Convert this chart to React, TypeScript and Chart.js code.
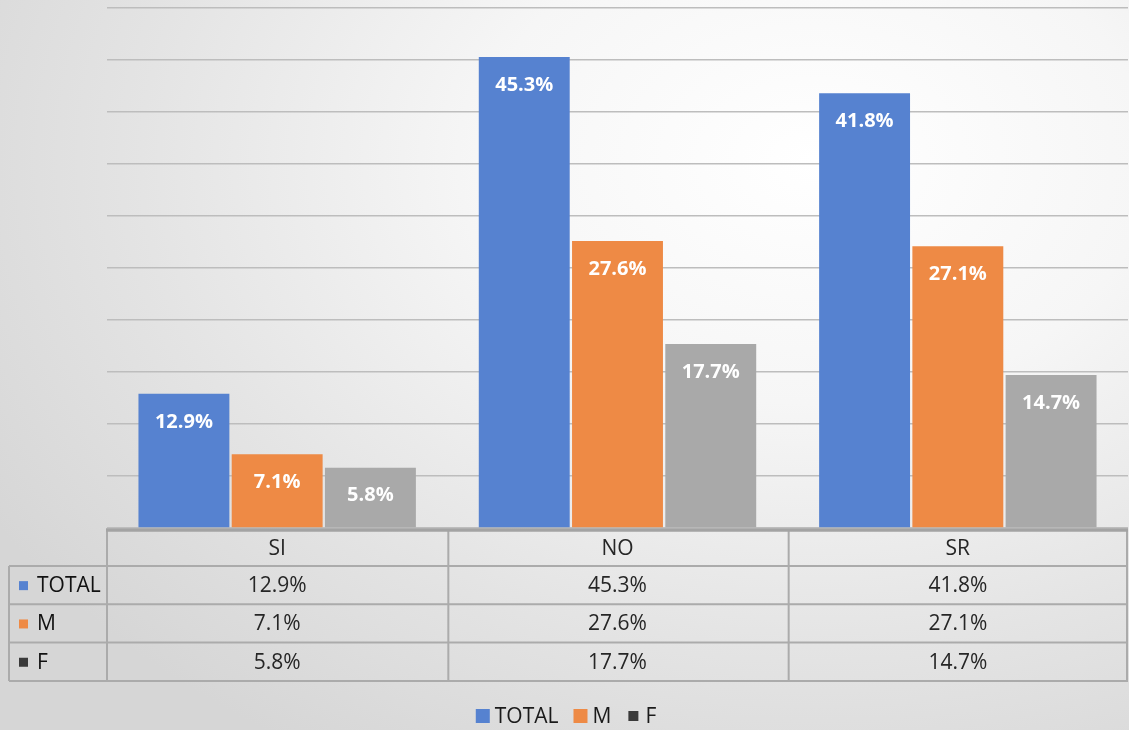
import React, { useEffect, useRef } from 'react';
import { Chart, registerables } from 'chart.js';

Chart.register(...registerables);

// ---- data ----
const categories = ['SI', 'NO', 'SR'];
const seriesNames = ['TOTAL', 'M', 'F'];
const totalValues = [12.9, 45.3, 41.8];
const mValues = [7.1, 27.6, 27.1];
const fValues = [5.8, 17.7, 14.7];
const yMin = 0;
const yMax = 50;
const yStep = 5;

// ---- styles ----
const BAR_COLORS = ['#5682D0', '#EE8A45', '#A9A9A9'];
const MARKER_COLORS = ['#5682D0', '#EE8A45', '#3A3A3A'];
const LEGEND_MARKER_SIZES = [14, 14, 10];
const FONT = '"Open Sans", "Liberation Sans", sans-serif';
const LINE_COLOR = '#ababab';

const fmt = (v: number) => v.toFixed(1) + '%';

const dataLabelPlugin = {
  id: 'dataLabels',
  afterDatasetsDraw(chart: any) {
    const { ctx } = chart;
    ctx.save();
    ctx.font = `bold 20px ${FONT}`;
    ctx.fillStyle = '#ffffff';
    ctx.textAlign = 'center';
    ctx.textBaseline = 'middle';
    chart.data.datasets.forEach((ds: any, di: number) => {
      const meta = chart.getDatasetMeta(di);
      meta.data.forEach((bar: any, i: number) => {
        ctx.fillText(fmt(ds.data[i]), bar.x, bar.y + 28);
      });
    });
    ctx.restore();
  },
};

const tablePlugin = {
  id: 'dataTable',
  afterDraw(chart: any) {
    const { ctx, chartArea, scales } = chart;
    const xs = scales.x;
    const left = chartArea.left;
    const right = chartArea.right;
    const colW = (right - left) / categories.length;
    const tableLeft = 9;
    const yTop = chartArea.bottom + 2;
    const headerBottom = yTop + 36;
    const rowH = 38.3;
    const rowLines = [headerBottom];
    for (let r = 0; r < seriesNames.length; r++) rowLines.push(headerBottom + rowH * (r + 1));
    const tableBottom = rowLines[rowLines.length - 1];

    ctx.save();
    ctx.strokeStyle = LINE_COLOR;
    ctx.lineWidth = 2;
    ctx.beginPath();
    rowLines.forEach((y) => {
      ctx.moveTo(tableLeft, y);
      ctx.lineTo(right, y);
    });
    ctx.moveTo(tableLeft, headerBottom);
    ctx.lineTo(tableLeft, tableBottom);
    for (let c = 0; c <= categories.length; c++) {
      const x = Math.min(left + colW * c + (c > 0 ? 1 : 0), right - 1);
      ctx.moveTo(x, yTop);
      ctx.lineTo(x, tableBottom);
    }
    ctx.stroke();
    ctx.strokeStyle = '#a3a3a3';
    ctx.lineWidth = 3.5;
    ctx.beginPath();
    ctx.moveTo(left - 1, yTop);
    ctx.lineTo(right, yTop);
    ctx.stroke();

    ctx.font = `21px ${FONT}`;
    ctx.fillStyle = '#262626';
    ctx.textAlign = 'center';
    ctx.textBaseline = 'middle';
    categories.forEach((c, i) => {
      ctx.fillText(c, xs.getPixelForValue(i), (yTop + headerBottom) / 2 + 1);
    });

    const series = chart.data.datasets;
    series.forEach((ds: any, r: number) => {
      const yc = rowLines[r] + rowH / 2 + 1;
      ctx.fillStyle = MARKER_COLORS[r];
      ctx.fillRect(19, yc - 5, 9, 9);
      ctx.fillStyle = '#111111';
      ctx.textAlign = 'left';
      ctx.fillText(ds.label, 37, yc);
      ctx.fillStyle = '#262626';
      ctx.textAlign = 'center';
      ds.data.forEach((v: number, i: number) => {
        ctx.fillText(fmt(v), xs.getPixelForValue(i), yc);
      });
    });

    // legend
    ctx.font = `21px ${FONT}`;
    ctx.textAlign = 'left';
    const box = 14;
    const gapBoxText = 5;
    const gapItems = 15;
    const widths = series.map((ds: any) => box + gapBoxText + ctx.measureText(ds.label).width);
    const total = widths.reduce((a: number, b: number) => a + b, 0) + gapItems * (series.length - 1);
    let x = 566 - total / 2;
    const ly = 716;
    series.forEach((ds: any, r: number) => {
      const s = LEGEND_MARKER_SIZES[r];
      ctx.fillStyle = MARKER_COLORS[r];
      ctx.fillRect(x + (box - s) / 2, ly - s / 2, s, s);
      ctx.fillStyle = '#1a1a1a';
      ctx.fillText(ds.label, x + box + gapBoxText, ly + 1);
      x += widths[r] + gapItems;
    });
    ctx.restore();
  },
};

export default function App() {
  const ref = useRef<HTMLCanvasElement | null>(null);

  useEffect(() => {
    if (!ref.current) return;
    const seriesValues = [totalValues, mValues, fValues];
    const chart = new Chart(ref.current, {
      type: 'bar',
      data: {
        labels: categories,
        datasets: seriesNames.map((name, i) => ({
          label: name,
          data: seriesValues[i],
          backgroundColor: BAR_COLORS[i],
          borderWidth: 0,
          categoryPercentage: 0.822,
          barPercentage: 0.975,
        })),
      },
      options: {
        responsive: false,
        animation: false,
        layout: { padding: { top: 8, right: 1, left: 0, bottom: 0 } },
        plugins: {
          legend: { display: false },
          tooltip: { enabled: false },
          title: { display: false },
        },
        scales: {
          x: {
            ticks: { display: false },
            grid: { display: false, drawTicks: false },
            border: { display: false },
            afterFit: (s: any) => {
              s.height = 202;
            },
          },
          y: {
            min: yMin,
            max: yMax,
            ticks: { display: false, stepSize: yStep },
            grid: { color: '#bdbdbd', lineWidth: 1.5, drawTicks: false },
            border: { display: false },
            afterFit: (s: any) => {
              s.width = 107;
            },
          },
        },
      },
      plugins: [dataLabelPlugin, tablePlugin],
    });
    return () => chart.destroy();
  }, []);

  return (
    <div
      style={{
        position: 'absolute',
        left: 0,
        top: 0,
        width: 1129,
        height: 730,
        overflow: 'hidden',
        background:
          'radial-gradient(ellipse 85% 95% at 72% 22%, #ffffff 0%, #f6f6f6 35%, #e4e4e4 70%, #d6d6d6 100%)',
      }}
    >
      <canvas ref={ref} width={1129} height={730} style={{ display: 'block' }} />
    </div>
  );
}
